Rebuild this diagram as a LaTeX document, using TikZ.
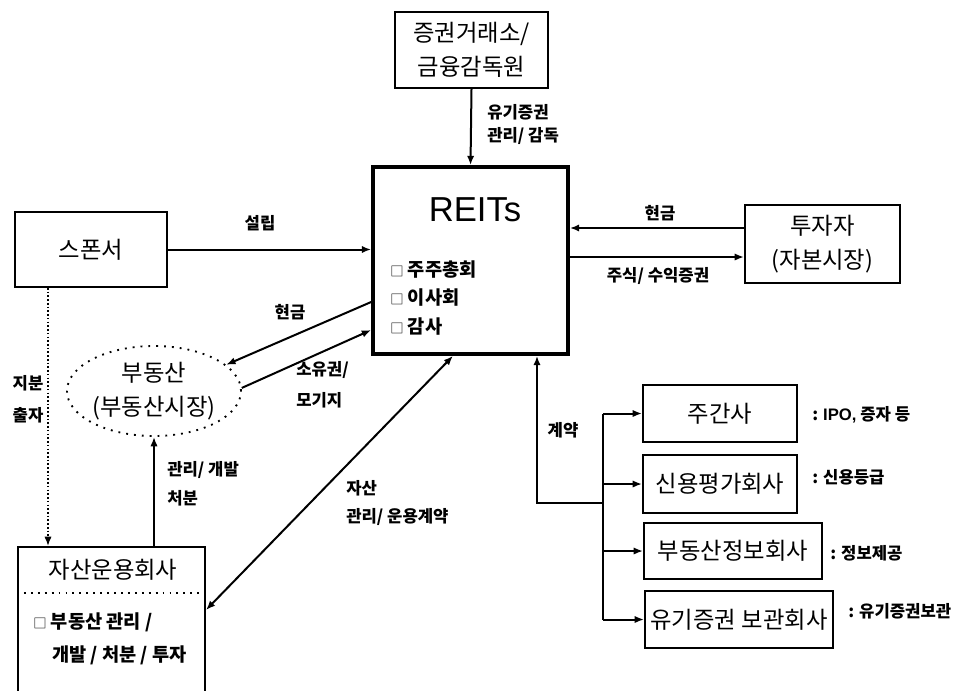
\documentclass[tikz,border=0pt]{standalone}
\usepackage{fontspec}
\setmainfont{Noto Sans CJK KR}
\newfontfamily\latinfont{Liberation Sans}
\usetikzlibrary{arrows.meta,shapes.geometric}
\tikzset{
  box/.style={draw, line width=1.5pt, inner sep=0pt, align=center, font=\fontsize{17.5}{26}\selectfont},
  lbl/.style={inner sep=0pt, font=\bfseries\fontsize{12.5}{17}\selectfont},
  txt/.style={inner sep=0pt, font=\bfseries\fontsize{14}{20}\selectfont},
  conn/.style={line width=1.5pt, -{Latex[length=7pt,width=5.5pt]}},
  dconn/.style={line width=1.5pt, {Latex[length=7pt,width=5.5pt]}-{Latex[length=7pt,width=5.5pt]}},
  plain/.style={line width=1.5pt},
}
\newcommand{\bsq}{{\mdseries\fontsize{10}{10}\selectfont □}}
\begin{document}
\begin{tikzpicture}[x=0.75pt,y=-0.75pt]
\useasboundingbox (0,0) rectangle (962,690);
\clip (0,0) rectangle (962,690);
% boxes
\node[box, minimum width=114.75pt, minimum height=57pt] (exch) at (471.5,50) {증권거래소/\\금융감독원};
\node[draw, line width=2.8pt, minimum width=146.25pt, minimum height=140.25pt, inner sep=0pt] (reits) at (470.5,260.5) {};
\node[inner sep=0pt, font=\latinfont\fontsize{26}{30}\selectfont] (reitsT) at (475,210) {REITs};
\node[txt, anchor=west] (it1) at (390,270) {\bsq\ 주주총회};
\node[txt, anchor=west] (it2) at (390,298) {\bsq\ 이사회};
\node[txt, anchor=west] (it3) at (390,326) {\bsq\ 감사};
\node[box, minimum width=116.25pt, minimum height=58.5pt] (inv) at (822.5,244) {투자자\\(자본시장)};
\node[box, minimum width=114pt, minimum height=56.25pt] (spon) at (91,249.5) {스폰서};
\node[ellipse, draw, line width=1.4pt, dash pattern=on 1.4pt off 4.5pt, minimum width=123pt, minimum height=67.5pt, inner sep=0pt, align=center, font=\fontsize{17.5}{26}\selectfont] (ell) at (154,391) {부동산\\(부동산시장)};
\node[draw, line width=1.5pt, minimum width=140.25pt, minimum height=114.75pt, inner sep=0pt] (asset) at (111.5,623.5) {};
\node[inner sep=0pt, font=\fontsize{17.5}{20}\selectfont] (assetT) at (113,570) {자산운용회사};
\draw[line width=1.4pt, dash pattern=on 1.4pt off 3.8pt] (asset.west |- 0,593) -- (asset.east |- 0,593);
\node[txt, anchor=west] (a1) at (33,622) {\bsq\ 부동산 관리 /};
\node[txt, anchor=west] (a2) at (52,655) {개발 / 처분 / 투자};
\node[box, minimum width=115.5pt, minimum height=42.75pt] (r1) at (720,413.5) {주간사};
\node[box, minimum width=115.5pt, minimum height=43.5pt] (r2) at (720,484) {신용평가회사};
\node[box, minimum width=133.5pt, minimum height=42pt] (r3) at (733,551) {부동산정보회사};
\node[box, minimum width=141pt, minimum height=42.75pt] (r4) at (739,619.5) {유기증권 보관회사};
% connectors
\draw[conn] (exch.south) -- (reits.north);
\draw[conn] (spon.east) -- (spon.east -| reits.west);
\draw[conn] (inv.west |- 0,228) -- (reits.east |- 0,228);
\draw[conn] (reits.east |- 0,257) -- (inv.west |- 0,257);
\draw[conn] (reits.west |- 0,302) -- (ell.20);
\draw[conn] (ell.2) -- (reits.west |- 0,330);
\draw[dconn] (reits.south -| 453,0) -- (asset.east |- 0,610);
\draw[conn] (asset.north -| ell.south) -- (ell.south);
\draw[conn, line width=1.2pt, dash pattern=on 1.2pt off 1.6pt] (spon.south -| 48,0) -- (asset.north -| 48,0);
\coordinate (bx) at (603,0);
\coordinate (bj) at (603,503);
\coordinate (kk) at (537,503);
\draw[plain] (r1.west -| bx) -- (r4.west -| bx);
\draw[conn] (bj) -- (kk) -- (reits.south -| kk);
\draw[conn] (r1.west -| bx) -- (r1.west);
\draw[conn] (r2.west -| bx) -- (r2.west);
\draw[conn] (r3.west -| bx) -- (r3.west);
\draw[conn] (r4.west -| bx) -- (r4.west);
% labels
\node[lbl, anchor=west] (l1) at (487,112) {유기증권};
\node[lbl, anchor=west] (l2) at (487,136) {관리/ 감독};
\node[lbl] (l3) at (260,223) {설립};
\node[lbl] (l4) at (660,213) {현금};
\node[lbl] (l5) at (658,276) {주식/ 수익증권};
\node[lbl] (l6) at (290,312) {현금};
\node[lbl, anchor=west] (l7) at (296,370) {소유권/};
\node[lbl, anchor=west] (l8) at (296,400) {모기지};
\node[lbl, anchor=west] (l9) at (346,488) {자산};
\node[lbl, anchor=west] (l10) at (346,517) {관리/ 운용계약};
\node[lbl] (l11) at (28,383) {지분};
\node[lbl] (l12) at (28,415) {출자};
\node[lbl, anchor=west] (l13) at (167,470) {관리/ 개발};
\node[lbl, anchor=west] (l14) at (167,498) {처분};
\node[lbl] (l15) at (563,430) {계약};
\node[lbl, anchor=west] (n1) at (812,415) {: {\latinfont IPO,} 증자 등};
\node[lbl, anchor=west] (n2) at (812,477) {: 신용등급};
\node[lbl, anchor=west] (n3) at (830,553) {: 정보제공};
\node[lbl, anchor=west] (n4) at (848,611) {: 유기증권보관};
\end{tikzpicture}
\end{document}
